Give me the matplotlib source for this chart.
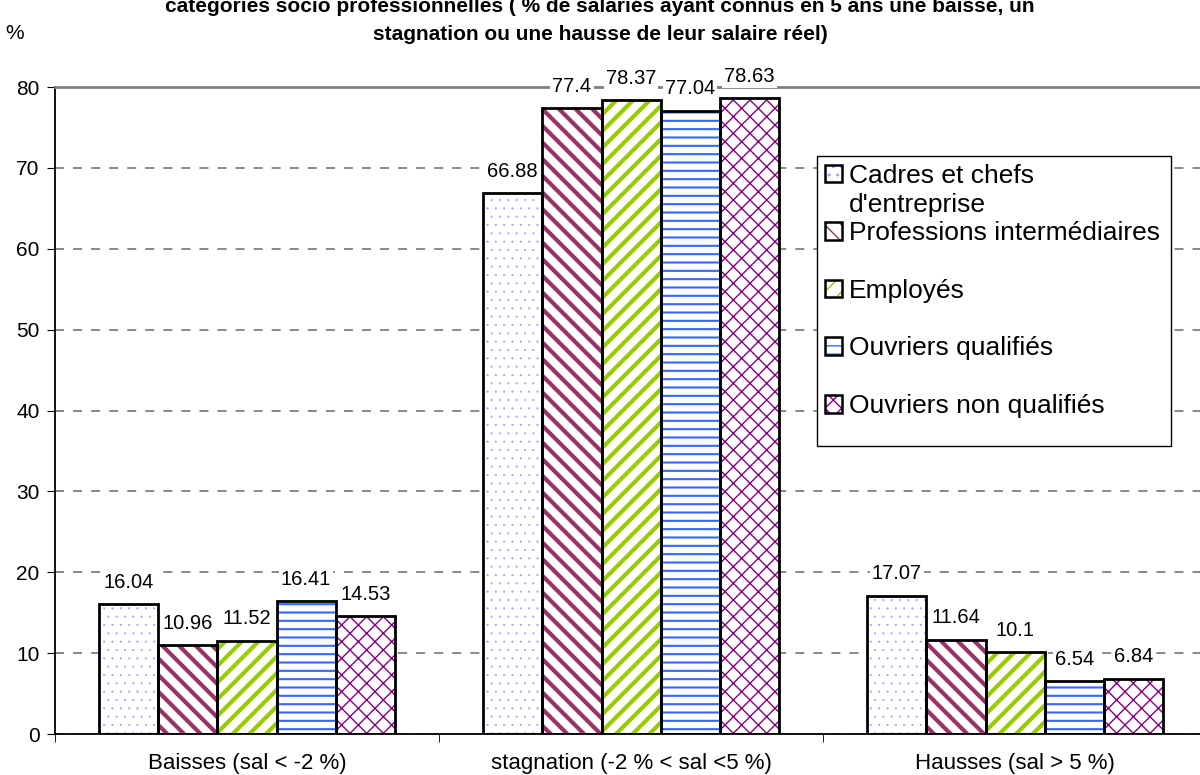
import numpy as np
import matplotlib.pyplot as plt
from matplotlib.patches import Patch, Rectangle
import matplotlib

matplotlib.rcParams['font.family'] = ['Liberation Sans', 'DejaVu Sans']

# données
categories = ['Baisses (sal < -2 %)', 'stagnation (-2 % < sal <5 %)', 'Hausses (sal > 5 %)']
series_names = ['Cadres et chefs', 'Professions intermédiaires', 'Employés',
                'Ouvriers qualifiés', 'Ouvriers non qualifiés']
cadres = [16.04, 66.88, 17.07]
prof_inter = [10.96, 77.4, 11.64]
employes = [11.52, 78.37, 10.1]
ouvriers_q = [16.41, 77.04, 6.54]
ouvriers_nq = [14.53, 78.63, 6.84]
y_ticks = [0, 10, 20, 30, 40, 50, 60, 70, 80]

all_series = [cadres, prof_inter, employes, ouvriers_q, ouvriers_nq]
hatch_colors = ['#A0A0FF', '#993366', '#99CC00', '#3366FF', '#800080']
hatches = ['..', '\\\\', '//', '--', 'xx']
hatch_widths = [0.3, 3.0, 3.0, 1.5, 1.0]

fig = plt.figure(figsize=(12, 7.75), dpi=100)
ax = fig.add_axes([0.0458, 0.0529, 0.9602, 0.8348])

x = np.arange(len(categories))
w = 0.154
handles = []
for i, (vals, hc, h, hw) in enumerate(zip(all_series, hatch_colors, hatches, hatch_widths)):
    pos = x + (i - 2) * w
    with plt.rc_context({'hatch.linewidth': hw}):
        ax.bar(pos, vals, w, color='white', edgecolor=hc, hatch=h, linewidth=0, zorder=2)
        hp = Patch(facecolor='white', edgecolor=hc, hatch=h, linewidth=0)
    ax.bar(pos, vals, w, fill=False, edgecolor='black', linewidth=2, zorder=3)
    bp = Patch(facecolor='none', edgecolor='black', linewidth=1.8)
    handles.append((hp, bp))
    for px, v in zip(pos, vals):
        ax.annotate('%g' % v, (px, v), xytext=(0, 9), textcoords='offset points',
                    ha='center', va='bottom', fontsize=14.5, zorder=4,
                    bbox=dict(boxstyle='square,pad=0.1', fc='white', ec='none'))

ax.set_xlim(-0.5, 2.5)
ax.set_ylim(0, 80)
ax.set_yticks(y_ticks)
ax.set_xticks(x)
ax.set_xticklabels(categories, fontsize=16)
ax.set_xticks([-0.5, 0.5, 1.5, 2.5], minor=True)
ax.tick_params(axis='x', which='major', length=0, pad=14)
ax.tick_params(axis='x', which='minor', length=6, direction='out')
ax.tick_params(axis='y', labelsize=15, length=6, direction='out', pad=5)

ax.yaxis.grid(True, linestyle=(0, (5, 5)), color='#808080', linewidth=1.3, zorder=0)
ax.set_axisbelow(True)
ax.spines['right'].set_visible(False)
ax.spines['top'].set_color('#808080')
ax.spines['top'].set_linewidth(2)
ax.spines['left'].set_linewidth(1.3)
ax.spines['bottom'].set_linewidth(1.3)

# cadre de la légende (dessiné à part, comme dans Excel)
frame = Rectangle((0.6615, 0.4451), 0.3073, 0.4483, transform=ax.transAxes,
                  facecolor='white', edgecolor='black', linewidth=1.0, zorder=5)
ax.add_patch(frame)

leg = ax.legend(handles, series_names, loc='upper left', bbox_to_anchor=(0.6615, 0.8934),
                fontsize=19, frameon=False,
                handlelength=0.65, handleheight=0.65, handletextpad=0.25,
                labelspacing=1.27, borderpad=0.3, borderaxespad=0)
leg.set_zorder(6)

# deuxième ligne du premier libellé
fig.canvas.draw()
bb = leg.get_texts()[0].get_window_extent()
fig.text(bb.x0 / fig.bbox.width, (bb.y0 - 5) / fig.bbox.height, "d'entreprise",
         fontsize=19, ha='left', va='top', zorder=7)

fig.text(0.5, 0.974, 'catégories socio professionnelles ( % de salariés ayant connus en 5 ans une baisse, un\n'
         'stagnation ou une hausse de leur salaire réel)',
         ha='center', va='center', fontsize=15, fontweight='bold', linespacing=1.6)
fig.text(0.0125, 0.957, '%', fontsize=15, ha='center', va='center')

fig.savefig('out.png', dpi=100)
